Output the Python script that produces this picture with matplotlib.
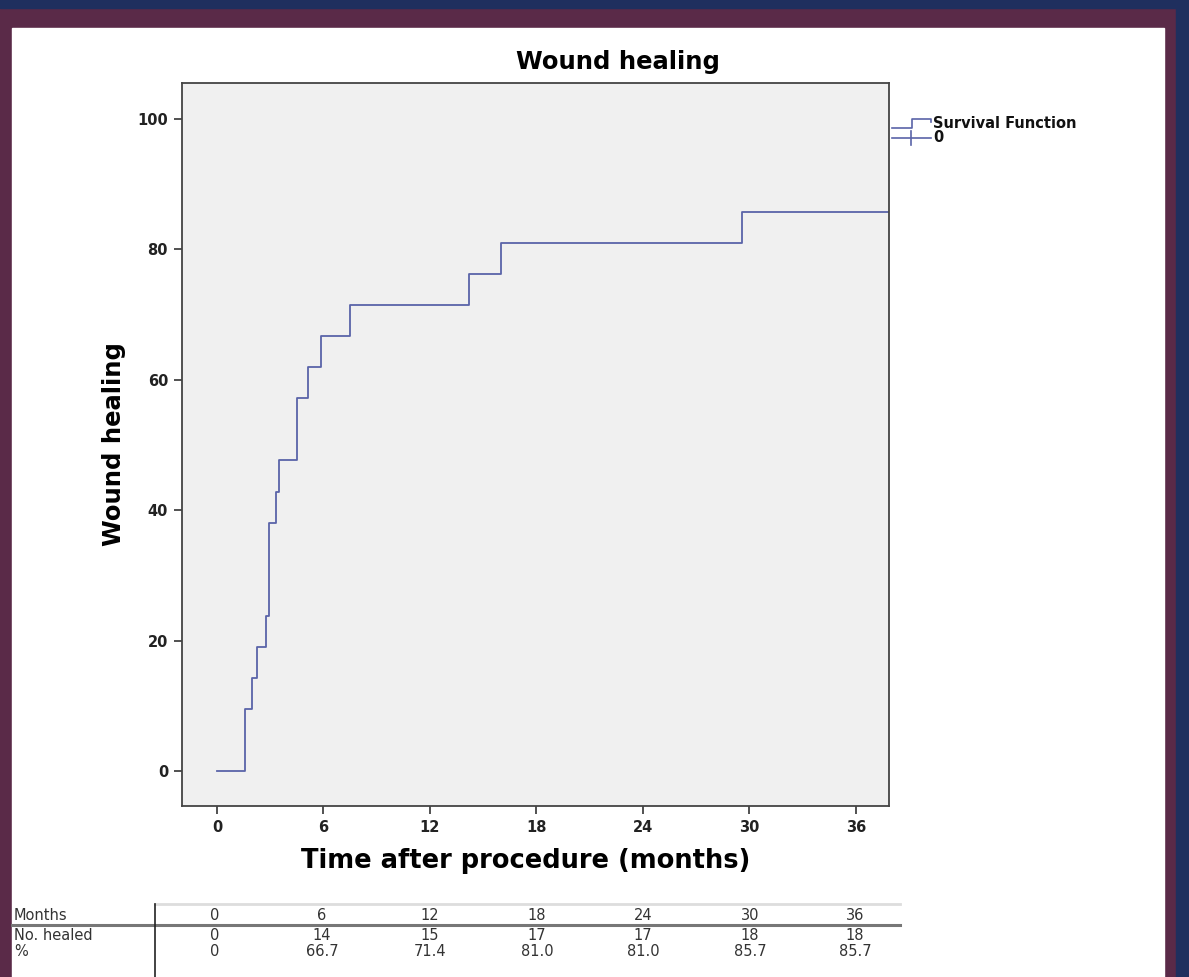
import matplotlib
matplotlib.use("Agg")
import matplotlib.pyplot as plt
from matplotlib.patches import Rectangle
from matplotlib.lines import Line2D
import numpy as np

# ---- data ----
event_times = [0, 1.57, 2.0, 2.28, 2.75, 2.94, 3.3, 3.5, 4.5, 5.13, 5.88, 7.51, 14.21, 16.0, 29.6]
healed_counts = [0, 2, 3, 4, 5, 8, 9, 10, 12, 13, 14, 15, 16, 17, 18]
n_patients = 21
end_time = 40
x_ticks = [0, 6, 12, 18, 24, 30, 36]
y_ticks = [0, 20, 40, 60, 80, 100]
legend_labels = ["Survival Function", "0"]
table_rows = ["Months", "No. healed", "%"]
table_months = ["0", "6", "12", "18", "24", "30", "36"]
table_healed = ["0", "14", "15", "17", "17", "18", "18"]
table_pct = ["0", "66.7", "71.4", "81.0", "81.0", "85.7", "85.7"]

W, H = 1189, 977
LINE_COLOR = "#5a64a8"
BOLD_FONT = "DejaVu Sans"
fig = plt.figure(figsize=(W / 100, H / 100), dpi=100)
fig.patch.set_facecolor("#5a2a48")

def fx(px):
    return px / W

def fy(py):
    return 1 - py / H

# frame decoration
fig.add_artist(Rectangle((0, fy(8)), 1, 8 / H, transform=fig.transFigure, color="#1f2f5e", zorder=-3))
fig.add_artist(Rectangle((fx(1176), 0), 13 / W, 1, transform=fig.transFigure, color="#1f2f5e", zorder=-3))
fig.add_artist(Rectangle((fx(12), 0), (1164 - 12) / W, fy(28), transform=fig.transFigure,
                         color="white", zorder=-2))

ax = fig.add_axes([fx(182), fy(806), (889 - 182) / W, (806 - 83) / H])
ax.set_zorder(1)
ax.set_facecolor("#f0f0f0")

xs = list(event_times) + [end_time]
ys = [c / n_patients * 100 for c in healed_counts]
ys = ys + [ys[-1]]
ax.step(xs, ys, where="post", color=LINE_COLOR, lw=1.3)

ax.set_xlim(-1.97, 37.86)
ax.set_ylim(-5.37, 105.5)
ax.set_xticks(x_ticks)
ax.set_yticks(y_ticks)
for s in ax.spines.values():
    s.set_color("#444444")
    s.set_linewidth(1.3)
ax.tick_params(direction="out", length=6, width=1.2, color="#333333",
               labelsize=10.5, pad=4)
for lab in ax.get_xticklabels() + ax.get_yticklabels():
    lab.set_fontweight("bold")
    lab.set_fontfamily(BOLD_FONT)
    lab.set_color("#222222")

# title centred over the whole chart (plot + legend), as in SPSS output
fig.text(fx(618), fy(62), "Wound healing", fontsize=17.5, fontweight="bold", family=BOLD_FONT,
         ha="center", va="center")
ax.set_xlabel("Time after procedure (months)", fontsize=18.5, fontweight="bold",
              family=BOLD_FONT)
ax.xaxis.set_label_coords((526 - 182) / (889 - 182), -0.058)
ax.set_ylabel("Wound healing", fontsize=17.5, fontweight="bold", family=BOLD_FONT, labelpad=8)

# legend (drawn manually to reproduce the step / cross icons)
ly1, ly2 = 123, 138
fig.add_artist(Line2D([fx(892), fx(912), fx(912), fx(931), fx(931)],
                      [fy(ly1 + 5), fy(ly1 + 5), fy(ly1 - 4), fy(ly1 - 4), fy(ly1 - 1)],
                      transform=fig.transFigure, color=LINE_COLOR, lw=1.2))
fig.add_artist(Line2D([fx(892), fx(931)], [fy(ly2), fy(ly2)],
                      transform=fig.transFigure, color=LINE_COLOR, lw=1.2))
fig.add_artist(Line2D([fx(911), fx(911)], [fy(ly2 - 7), fy(ly2 + 7)],
                      transform=fig.transFigure, color=LINE_COLOR, lw=1.2))
for ly, lab in zip([ly1, ly2], legend_labels):
    fig.text(fx(933), fy(ly), lab, fontsize=10.5, fontweight="bold", family=BOLD_FONT,
             va="center", ha="left", color="#111111")

# table
col_x = [215, 322, 430, 537, 643, 750, 855]
row_y = [915, 935, 952]
fig.add_artist(Line2D([fx(155), fx(900)], [fy(904), fy(904)], transform=fig.transFigure,
                      color="#dddddd", lw=2))
fig.add_artist(Line2D([fx(12), fx(900)], [fy(925), fy(925)], transform=fig.transFigure,
                      color="#777777", lw=2.2))
fig.add_artist(Line2D([fx(155), fx(155)], [fy(904), fy(977)], transform=fig.transFigure,
                      color="#222222", lw=1.2))
rows = [table_months, table_healed, table_pct]
for ry, label, vals in zip(row_y, table_rows, rows):
    fig.text(fx(14), fy(ry), label, fontsize=10.5, family="DejaVu Sans", color="#333333",
             va="center", ha="left")
    for cx, v in zip(col_x, vals):
        fig.text(fx(cx), fy(ry), v, fontsize=10.5, family="DejaVu Sans", color="#333333",
                 va="center", ha="center")

fig.savefig("out.png", dpi=100, facecolor=fig.get_facecolor())
